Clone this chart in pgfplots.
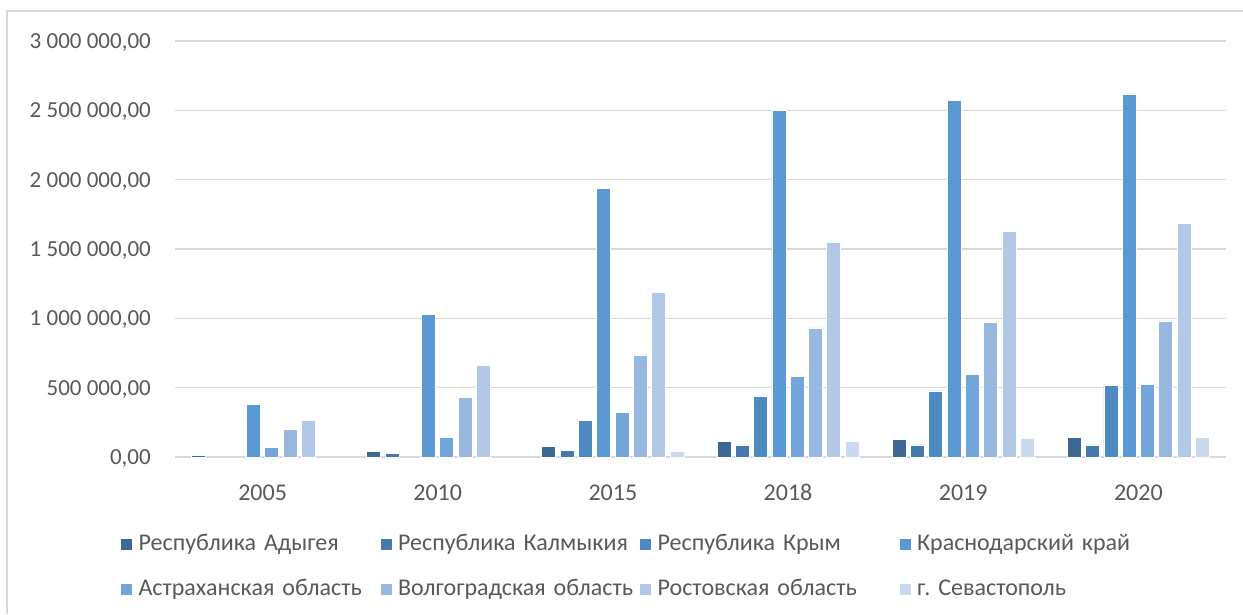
\documentclass[border=0pt]{standalone}
\usepackage{pgfplots}
\pgfplotsset{compat=1.18}
\usepackage{fontspec}
\setmainfont{Carlito}
\frenchspacing
\definecolor{txt}{HTML}{595959}
\definecolor{grd}{HTML}{D9D9D9}
\definecolor{c1}{HTML}{3D6894}
\definecolor{c2}{HTML}{4679AE}
\definecolor{c3}{HTML}{4F89C1}
\definecolor{c4}{HTML}{5B99D2}
\definecolor{c5}{HTML}{72A6DA}
\definecolor{c6}{HTML}{98B8E0}
\definecolor{c7}{HTML}{B2C8E6}
\definecolor{c8}{HTML}{CBD9EE}
\begin{document}
\begin{tikzpicture}
\path[use as bounding box] (0,0) rectangle (1243pt,614pt);
\draw[grd, line width=1.5pt] (7pt,0) -- (7pt,603pt) -- (1243pt,603pt);
\begin{axis}[
  at={(175pt,157pt)}, anchor=south west,
  scale only axis, width=1051pt, height=416pt,
  ybar=4.3pt, bar width=14pt,
  xmin=-0.5, xmax=5.5, ymin=0, ymax=3000000,
  scaled y ticks=false,
  xtick={0,1,2,3,4,5},
  xticklabels={2005,2010,2015,2018,2019,2020},
  ytick={0,500000,1000000,1500000,2000000,2500000,3000000},
  yticklabels={{0,00},{500 000,00},{1 000 000,00},{1 500 000,00},{2 000 000,00},{2 500 000,00},{3 000 000,00}},
  axis x line*=bottom, axis y line*=left,
  x axis line style={grd, line width=1.5pt, -},
  y axis line style={draw=none},
  ymajorgrids, grid style={grd, line width=1.5pt},
  major tick length=0pt,
  clip=false,
  xticklabel style={font=\fontsize{24}{28}\selectfont, text=txt, anchor=base, inner sep=0pt, yshift=-43pt},
  yticklabel style={font=\fontsize{23}{27}\selectfont, text=txt, anchor=base east, inner sep=0pt, xshift=-24pt, yshift=-7.5pt},
  legend columns=4,
  legend cell align=left,
  legend image code/.code={\fill[#1, draw=none] (0pt,-5.5pt) rectangle (11pt,5.5pt);},
  legend style={draw=none, fill=none, at={(-0.0543,-0.180)}, anchor=north west,
    font=\fontsize{24}{28}\selectfont, text=txt,
    nodes={inner sep=0pt, text height=16pt, text depth=5pt},
    row sep=24pt,
    /tikz/every even column/.append style={text width=242pt, align=left},
    /tikz/every odd column/.append style={column sep=6.5pt}},
  every axis plot/.append style={draw=white, line width=0.8pt},
]
\addplot[fill=c1] coordinates {(0,14000) (1,43000) (2,77000) (3,115000) (4,125000) (5,142000)};
\addplot[fill=c2] coordinates {(1,25000) (2,50000) (3,87000) (4,87000) (5,87000)};
\addplot[fill=c3] coordinates {(2,263000) (3,440000) (4,476000) (5,515000)};
\addplot[fill=c4] coordinates {(0,378000) (1,1029000) (2,1936000) (3,2497000) (4,2572000) (5,2618000)};
\addplot[fill=c5] coordinates {(0,68000) (1,142000) (2,320000) (3,580000) (4,596000) (5,522000)};
\addplot[fill=c6] coordinates {(0,200000) (1,431000) (2,736000) (3,931000) (4,969000) (5,981000)};
\addplot[fill=c7] coordinates {(0,263000) (1,659000) (2,1186000) (3,1549000) (4,1624000) (5,1682000)};
\addplot[fill=c8] coordinates {(2,41000) (3,115000) (4,135000) (5,142000)};
\legend{Республика Адыгея, Республика Калмыкия, Республика Крым, Краснодарский край, Астраханская область, Волгоградская область, Ростовская область, г. Севастополь}
\end{axis}
\end{tikzpicture}
\end{document}
